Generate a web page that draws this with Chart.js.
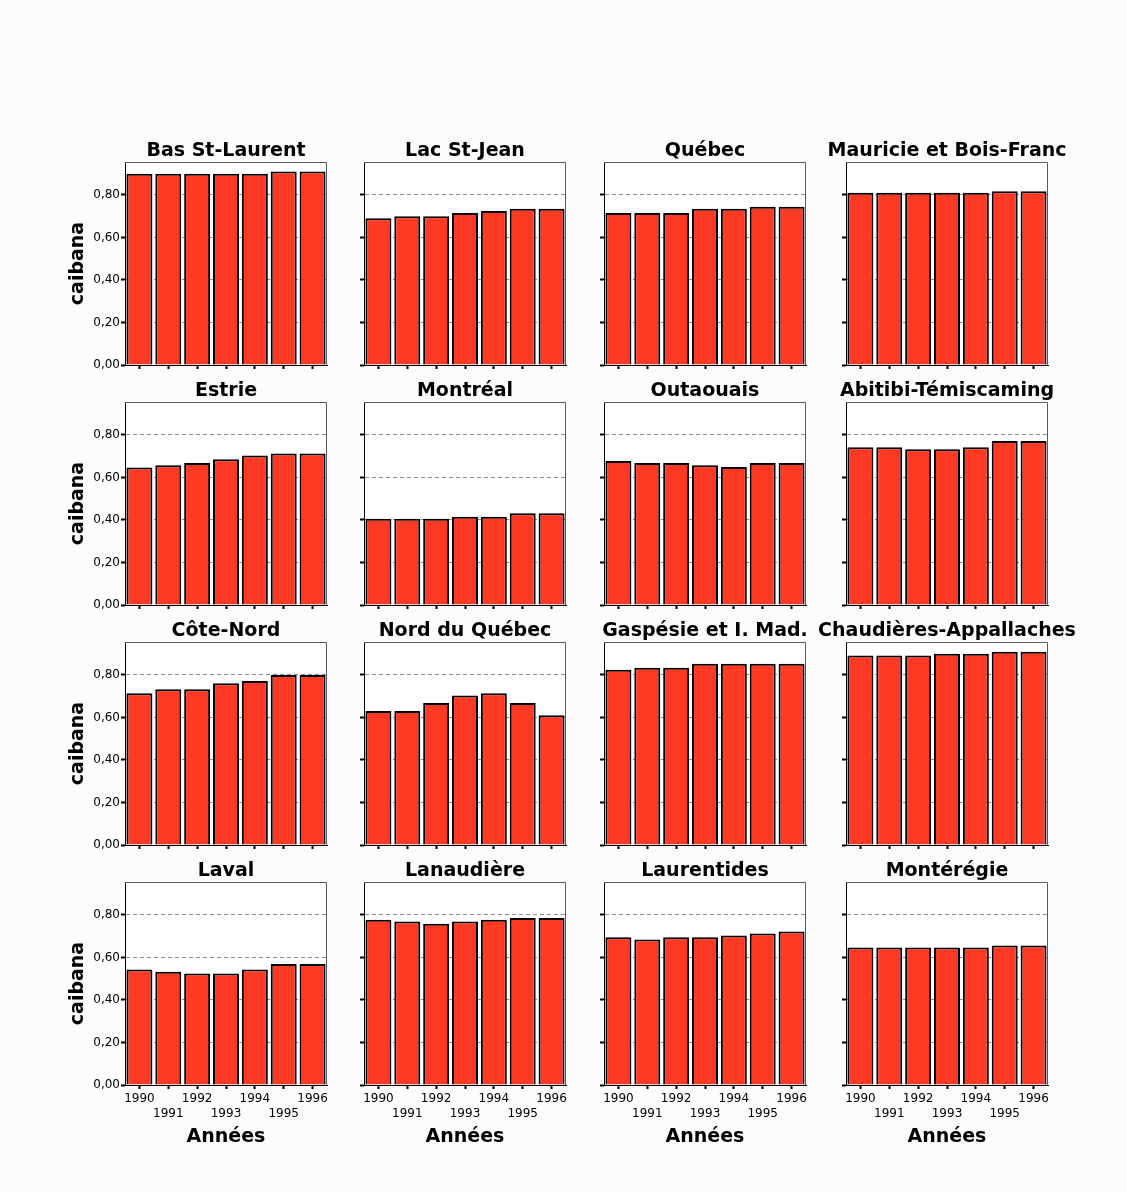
<!DOCTYPE html>
<html lang="fr">
<head>
<meta charset="utf-8">
<title>caibana par région, 1990-1996</title>
<script src="https://cdn.jsdelivr.net/npm/chart.js@4.4.1/dist/chart.umd.min.js"></script>
<style>
  html, body {
    margin: 0;
    padding: 0;
    background: #fcfcfc;
  }
  #page {
    position: relative;
    width: 1127px;
    height: 1192px;
    background: #fcfcfc;
    overflow: hidden;
  }
  #page canvas {
    position: absolute;
  }
</style>
</head>
<body>
<div id="page"></div>
<script>
/* =========================
   DATA
========================= */

const years = ["1990", "1991", "1992", "1993", "1994", "1995", "1996"];

const yTickValues = [0, 0.2, 0.4, 0.6, 0.8];
const yTickLabels = ["0,00", "0,20", "0,40", "0,60", "0,80"];
const yMax = 0.955;

const regions = [
  "Bas St-Laurent", "Lac St-Jean", "Québec", "Mauricie et Bois-Franc",
  "Estrie", "Montréal", "Outaouais", "Abitibi-Témiscaming",
  "Côte-Nord", "Nord du Québec", "Gaspésie et I. Mad.", "Chaudières-Appallaches",
  "Laval", "Lanaudière", "Laurentides", "Montérégie"
];

const basStLaurent = [0.90, 0.90, 0.90, 0.90, 0.90, 0.91, 0.91];
const lacStJean = [0.69, 0.70, 0.70, 0.715, 0.725, 0.735, 0.735];
const quebec = [0.715, 0.715, 0.715, 0.735, 0.735, 0.745, 0.745];
const mauricie = [0.81, 0.81, 0.81, 0.81, 0.81, 0.817, 0.817];

const estrie = [0.647, 0.658, 0.668, 0.686, 0.703, 0.713, 0.713];
const montreal = [0.406, 0.406, 0.406, 0.415, 0.415, 0.432, 0.432];
const outaouais = [0.677, 0.668, 0.668, 0.658, 0.649, 0.668, 0.668];
const abitibi = [0.742, 0.742, 0.733, 0.733, 0.742, 0.771, 0.771];

const coteNord = [0.714, 0.733, 0.733, 0.761, 0.771, 0.80, 0.80];
const nordQuebec = [0.63, 0.63, 0.668, 0.703, 0.714, 0.668, 0.61];
const gaspesie = [0.825, 0.834, 0.834, 0.853, 0.853, 0.853, 0.853];
const chaudieres = [0.892, 0.892, 0.892, 0.90, 0.90, 0.909, 0.909];

const laval = [0.543, 0.533, 0.524, 0.524, 0.543, 0.569, 0.569];
const lanaudiere = [0.777, 0.769, 0.759, 0.769, 0.777, 0.786, 0.786];
const laurentides = [0.695, 0.684, 0.695, 0.695, 0.703, 0.713, 0.722];
const monteregie = [0.647, 0.647, 0.647, 0.647, 0.647, 0.656, 0.656];

const regionValues = [
  basStLaurent, lacStJean, quebec, mauricie,
  estrie, montreal, outaouais, abitibi,
  coteNord, nordQuebec, gaspesie, chaudieres,
  laval, lanaudiere, laurentides, monteregie
];

/* =========================
   LAYOUT
========================= */

const colLefts = [125, 364, 604, 846];
const rowTops = [162, 402, 642, 882];

const plotW = 202;
const plotH = 203;
const leftW = 60;
const rightW = 40;
const topH = 28;

const barRed = "#ff3a24";
const gridGrey = "#8a8a8a";
const frameGrey = "#5a5a5a";

/* =========================
   PANEL PLUGIN
   (white plot area, frame, title)
========================= */

const panelPlugin = {

  id: "panel",

  beforeDraw(chart) {
    const { ctx, chartArea } = chart;
    ctx.save();
    ctx.fillStyle = "#ffffff";
    ctx.fillRect(
      chartArea.left,
      chartArea.top,
      chartArea.right - chartArea.left,
      chartArea.bottom - chartArea.top
    );
    ctx.restore();
  },

  afterDraw(chart, args, opts) {
    const { ctx, chartArea } = chart;

    ctx.save();

    ctx.strokeStyle = frameGrey;
    ctx.lineWidth = 1;
    ctx.beginPath();
    ctx.moveTo(chartArea.left, chartArea.top + 0.5);
    ctx.lineTo(chartArea.right - 0.5, chartArea.top + 0.5);
    ctx.lineTo(chartArea.right - 0.5, chartArea.bottom);
    ctx.stroke();

    ctx.fillStyle = "#000000";
    ctx.font = "bold 19px 'DejaVu Sans'";
    ctx.textAlign = "center";
    ctx.textBaseline = "alphabetic";
    ctx.fillText(
      opts.text,
      (chartArea.left + chartArea.right) / 2,
      chartArea.top - 6
    );

    ctx.restore();
  }

};

/* =========================
   BUILD PANELS
========================= */

const page = document.getElementById("page");

regions.forEach((name, i) => {

  const row = Math.floor(i / 4);
  const col = i % 4;

  const isBottom = row === 3;
  const isFirstCol = col === 0;

  const bottomH = isBottom ? 72 : 10;

  const canvas = document.createElement("canvas");
  canvas.width = leftW + plotW + rightW;
  canvas.height = topH + plotH + bottomH;
  canvas.style.left = (colLefts[col] - leftW) + "px";
  canvas.style.top = (rowTops[row] - topH) + "px";
  page.appendChild(canvas);

  new Chart(canvas.getContext("2d"), {

    type: "bar",

    data: {
      labels: years,
      datasets: [{
        label: name,
        data: regionValues[i],
        backgroundColor: barRed,
        borderColor: "#000000",
        borderWidth: 2,
        barPercentage: 0.9,
        categoryPercentage: 1
      }]
    },

    options: {

      responsive: false,
      animation: false,
      devicePixelRatio: 1,
      events: [],

      layout: {
        padding: { top: topH, right: rightW, left: 0, bottom: 0 }
      },

      plugins: {
        legend: { display: false },
        tooltip: { enabled: false },
        panel: { text: name }
      },

      scales: {

        x: {
          grid: {
            display: true,
            drawOnChartArea: false,
            drawTicks: true,
            offset: false,
            tickLength: 4,
            tickWidth: 2,
            tickColor: "#000000"
          },
          border: {
            display: true,
            color: "#000000",
            width: 1
          },
          ticks: {
            display: isBottom,
            autoSkip: false,
            maxRotation: 0,
            minRotation: 0,
            padding: 3,
            color: "#000000",
            font: { family: "'DejaVu Sans'", size: 12 },
            callback: (value, index) =>
              index % 2 === 0 ? [years[index]] : ["", years[index]]
          },
          title: {
            display: isBottom,
            text: "Années",
            color: "#000000",
            font: { family: "'DejaVu Sans'", size: 19, weight: "bold" },
            padding: { top: 0, bottom: 9 }
          },
          afterFit(scale) {
            scale.height = bottomH;
            scale.paddingLeft = 0;
            scale.paddingRight = 0;
            scale.paddingTop = 0;
            scale.paddingBottom = 0;
          }
        },

        y: {
          min: 0,
          max: yMax,
          afterBuildTicks(scale) {
            scale.ticks = yTickValues.map(v => ({ value: v }));
          },
          grid: {
            display: true,
            drawOnChartArea: true,
            drawTicks: true,
            lineWidth: 1,
            color: c => (c.tick && c.tick.value === 0) ? "rgba(0,0,0,0)" : gridGrey,
            tickLength: 4,
            tickWidth: 2,
            tickColor: "#000000"
          },
          border: {
            display: true,
            color: "#000000",
            width: 1,
            dash: [4, 3]
          },
          ticks: {
            display: isFirstCol,
            padding: 1,
            color: "#000000",
            font: { family: "'DejaVu Sans'", size: 12 },
            callback: (value, index) => yTickLabels[index]
          },
          title: {
            display: isFirstCol,
            text: "caibana",
            color: "#000000",
            font: { family: "'DejaVu Sans'", size: 19, weight: "bold" },
            padding: { top: 2, bottom: 0 }
          },
          afterFit(scale) {
            scale.width = leftW;
            scale.paddingLeft = 0;
            scale.paddingRight = 0;
            scale.paddingTop = 0;
            scale.paddingBottom = 0;
          }
        }

      }

    },

    plugins: [panelPlugin]

  });

});
</script>
</body>
</html>
